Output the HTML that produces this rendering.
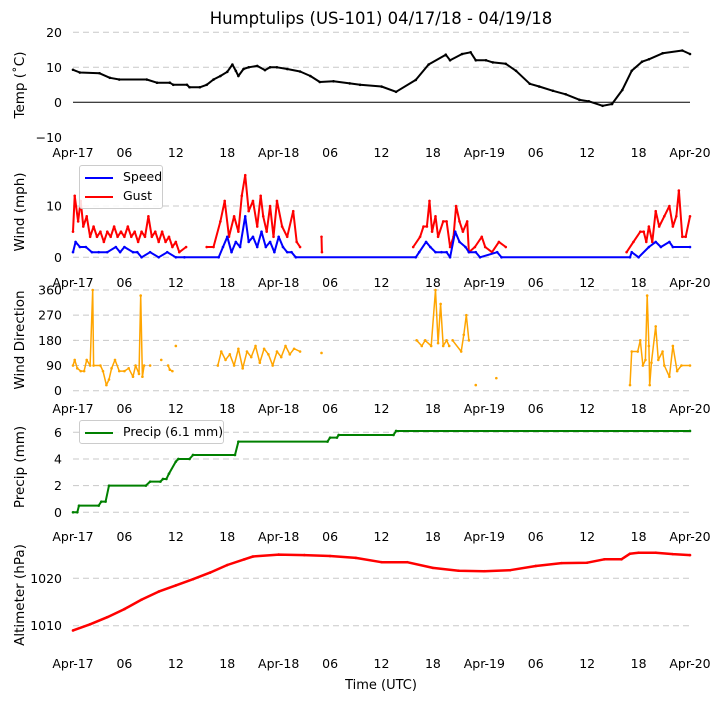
<!DOCTYPE html>
<html><head><meta charset="utf-8"><style>
body{margin:0;background:#fff}
svg{font-family:"DejaVu Sans","Liberation Sans",sans-serif}
</style></head><body>
<svg id="chart" width="722" height="700" viewBox="0 0 722 700">
<text x="381" y="24" font-size="16.5" text-anchor="middle">Humptulips (US-101) 04/17/18 - 04/19/18</text>
<text x="381" y="689" font-size="13" text-anchor="middle">Time (UTC)</text>
</svg>
<script>
const xTickLabels=["Apr-17","06","12","18","Apr-18","06","12","18","Apr-19","06","12","18","Apr-20"];
const tempH=[0,0.8,3.1,4.3,5.4,8.6,9.8,11.3,11.7,13.3,13.6,14.8,15.6,16.4,17.2,18,18.6,19,19.3,19.9,20.5,21.5,22.4,23,23.8,25,26.5,27.7,28.8,30.4,32.3,33.5,36,37.7,40,41.5,43.5,44,45.4,46.4,47,48.2,49,50.5,51.7,53.3,54.4,56,57.5,59.1,60.2,61.8,62.9,64.1,65.2,66.4,67.2,68.8,71.1,72];
const tempV=[9.3,8.5,8.3,7,6.5,6.5,5.6,5.6,5,5,4.3,4.3,5,6.5,7.5,8.7,10.8,9,7.5,9.5,10,10.4,9.2,10,10,9.5,8.8,7.5,5.8,6,5.4,5,4.5,3,6.4,10.8,13.6,12,13.8,14.3,12,12,11.4,11,9,5.3,4.5,3.3,2.3,0.7,0.3,-1,-0.5,3.5,9,11.6,12.3,14,14.8,13.8];
const gustH=[0,0.2,0.6,0.9,1.2,1.6,2,2.4,2.8,3.2,3.6,4,4.4,4.8,5.2,5.6,6,6.4,6.8,7.2,7.6,8,8.4,8.8,9.2,9.6,10,10.4,10.8,11.2,11.6,12,12.4,13.2,null,15.6,16.4,17.2,17.7,18.2,18.8,19.3,19.7,20.1,20.5,21,21.5,21.9,22.2,22.6,23,23.4,23.8,24.4,25,25.7,26.1,26.5,null,29,29.05,null,39.7,40.5,40.9,41.3,41.6,41.9,42.3,42.6,43.2,43.6,44,44.4,44.7,45.1,45.5,46,46.2,46.9,47.7,48.1,48.9,49.7,50.5,null,64.6,65.4,66.2,66.6,66.9,67.2,67.6,68,68.4,69,69.6,70,70.4,70.7,71.1,71.5,72];
const gustV=[5,12,7,11,6,8,4,6,4,5,3,5,4,6,4,5,4,6,4,5,3,5,4,8,4,5,3,5,3,4,2,3,1,2,null,2,2,7,11,4,8,5,12,16,9,11,6,12,8,5,10,4,11,6,4,9,3,2,null,4,1,null,2,4,6,6,11,5,8,4,7,7,2,4,10,7,5,7,1,2,4,2,1,3,2,null,1,3,5,5,3,6,3,9,6,8,10,6,8,13,4,4,8];
const speedH=[0,0.3,0.8,1.5,2.2,3,4,5,5.5,6,7,7.5,8,9,10,11,12,13,17,17.5,18,18.5,19,19.5,20.1,20.5,21,21.5,22,22.5,23,23.5,24,24.5,25,25.5,26,40,40.4,41.2,41.7,42.3,43,43.6,44,44.6,45.1,45.8,46.2,47,47.5,49.5,50,65,65.2,66,67.2,68,68.6,69.6,70,72];
const speedV=[1,3,2,2,1,1,1,2,1,2,1,1,0,1,0,1,0,0,0,2,4,1,3,2,8,3,4,2,5,2,3,1,4,2,1,1,0,0,1,3,2,1,1,1,0,5,3,2,1,1,0,1,0,0,1,0,2,3,2,3,2,2];
const dirH=[0,0.2,0.5,0.9,1.3,1.6,2,2.3,2.4,3.2,3.5,3.9,4.2,4.5,4.9,5.4,6,6.5,7,7.3,7.7,7.9,8.1,8.3,null,9,null,10.3,null,11.1,11.3,11.6,null,12,null,16.9,17.3,17.8,18.3,18.8,19.3,19.8,20.3,20.8,21.3,21.8,22.3,22.8,23.3,23.8,24.3,24.8,25.3,25.8,26.5,null,29,null,40.1,40.7,41.1,41.8,42.3,42.6,42.9,43.2,43.6,43.9,null,44.3,45.3,45.6,45.9,46.2,null,47,null,49.4,null,65,65.2,65.9,66.2,66.5,66.8,67,67.2,67.3,67.5,68,68.3,68.8,69,69.6,70,70.5,71,72];
const dirV=[90,110,80,70,70,110,90,360,90,90,70,20,40,80,110,70,70,80,50,90,60,340,50,90,null,90,null,110,null,90,75,70,null,160,null,90,140,110,130,90,150,80,140,120,160,100,150,130,90,140,120,160,130,150,140,null,135,null,180,160,180,160,360,170,310,160,180,160,null,180,140,200,270,180,null,20,null,45,null,20,140,140,180,90,110,340,160,20,100,230,110,140,90,50,160,70,90,90];
const precH=[0,0.5,0.7,3,3.3,3.8,4.2,8.5,9,10.2,10.5,10.9,11.2,12,12.3,13.6,14,18.9,19.3,29.7,30,30.8,31,37.4,37.7,72];
const precV=[0,0,0.5,0.5,0.8,0.8,2,2,2.3,2.3,2.5,2.5,2.9,3.8,4,4,4.3,4.3,5.3,5.3,5.6,5.6,5.8,5.8,6.1,6.1];
const altH=[0,2,4,6,8,10,12,14,16,18,20,21,24,27,30,33,36,39,42,45,48,51,54,57,60,62,64,65,66,68,70,72];
const altV=[1009,1010.3,1011.8,1013.5,1015.5,1017.2,1018.5,1019.8,1021.2,1022.8,1024,1024.6,1025,1024.9,1024.7,1024.3,1023.4,1023.4,1022.2,1021.6,1021.5,1021.7,1022.6,1023.2,1023.3,1024,1024,1025.2,1025.4,1025.4,1025.1,1024.9];

const svg=document.getElementById('chart');
const NS='http://www.w3.org/2000/svg';
const X0=73,X1=690;
function xs(h){return X0+(X1-X0)*h/72;}
function mk(tag,attrs){const e=document.createElementNS(NS,tag);for(const k in attrs)e.setAttribute(k,attrs[k]);svg.appendChild(e);return e;}
function panel(p){
  const ys=v=>p.y0+(v-p.v0)*(p.y1-p.y0)/(p.v1-p.v0);
  p.grid.forEach(v=>{const l=mk('line',{x1:X0,x2:X1,y1:ys(v),y2:ys(v),stroke:'#c8c8c8','stroke-dasharray':'6,4','stroke-width':1});
    
    });
  p.ticks.forEach((v,i)=>{const t=mk('text',{x:62,y:ys(v)+4.5,'font-size':12.5,'text-anchor':'end'});t.textContent=p.tickLabels[i];
    
    });
  xTickLabels.forEach((s,i)=>{const t=mk('text',{x:xs(i*6),y:p.xl,'font-size':12.5,'text-anchor':'middle'});t.textContent=s;
    
    });
  const yl=mk('text',{x:0,y:0,'font-size':13.5,'text-anchor':'middle',transform:`translate(24,${p.lc}) rotate(-90)`});yl.textContent=p.label;
  
  
  return ys;
}
function series(H,V,ys,color,name,w){
  let d='';let pen=false;const dots=[];
  H.forEach((h,i)=>{if(h===null||V[i]===null){pen=false;return;}
    const x=xs(h),y=ys(V[i]);d+=(pen?'L':'M')+x.toFixed(1)+','+y.toFixed(1);pen=true;dots.push([x,y]);});
  const p=mk('path',{d:d,fill:'none',stroke:color,'stroke-width':w,'stroke-linejoin':'round'});
  
  
  dots.forEach(([x,y])=>{const c=mk('circle',{cx:x,cy:y,r:1.3,fill:color});
    
    });
}
let ys=panel({key:'temp',v0:0,v1:10,y0:102.3,y1:67.3,grid:[20,10],ticks:[20,10,0,-10],tickLabels:['20','10','0','\u221210'],xl:157,lc:85,label:'Temp (\u02daC)'});
let z=mk('line',{x1:X0,x2:X1,y1:ys(0),y2:ys(0),stroke:'#000','stroke-width':1});


series(tempH,tempV,ys,'#000','temp-line',2);
ys=panel({key:'wind',v0:0,v1:10,y0:257.3,y1:206,grid:[10,0],ticks:[10,0],tickLabels:['10','0'],xl:287,lc:212,label:'Wind (mph)'});
series(gustH,gustV,ys,'#ff0000','gust-line',2);
series(speedH,speedV,ys,'#0000ff','speed-line',2);
ys=panel({key:'dir',v0:0,v1:360,y0:390.7,y1:290,grid:[360,270,180,90,0],ticks:[360,270,180,90,0],tickLabels:['360','270','180','90','0'],xl:413,lc:340,label:'Wind Direction'});
series(dirH,dirV,ys,'orange','direction-line',1.5);
ys=panel({key:'precip',v0:0,v1:6,y0:512.3,y1:432.3,grid:[6,4,2,0],ticks:[6,4,2,0],tickLabels:['6','4','2','0'],xl:541,lc:467,label:'Precip (mm)'});
series(precH,precV,ys,'green','precip-line',2);
ys=panel({key:'alt',v0:1010,v1:1020,y0:625.7,y1:578.3,grid:[1020,1010],ticks:[1020,1010],tickLabels:['1020','1010'],xl:668,lc:595,label:'Altimeter (hPa)'});
series(altH,altV,ys,'#ff0000','altimeter-line',2.5);
</script>
<div style="position:absolute;left:79px;top:165px;width:82px;height:42px;border:1px solid #ccc;border-radius:3px;background:rgba(255,255,255,0.85);font:12.5px 'DejaVu Sans',sans-serif">
<div style="position:absolute;left:5px;top:3px;white-space:nowrap"><span style="display:inline-block;width:28px;height:2px;background:#00f;vertical-align:middle;margin-right:10px"></span>Speed</div>
<div style="position:absolute;left:5px;top:22px;white-space:nowrap"><span style="display:inline-block;width:28px;height:2px;background:#f00;vertical-align:middle;margin-right:10px"></span>Gust</div>
</div>
<div style="position:absolute;left:79px;top:420px;width:143px;height:22px;border:1px solid #ccc;border-radius:3px;background:rgba(255,255,255,0.85);font:12.5px 'DejaVu Sans',sans-serif">
<div style="position:absolute;left:5px;top:3px;white-space:nowrap"><span style="display:inline-block;width:28px;height:2px;background:green;vertical-align:middle;margin-right:10px"></span>Precip (6.1 mm)</div>
</div>
</body></html>
